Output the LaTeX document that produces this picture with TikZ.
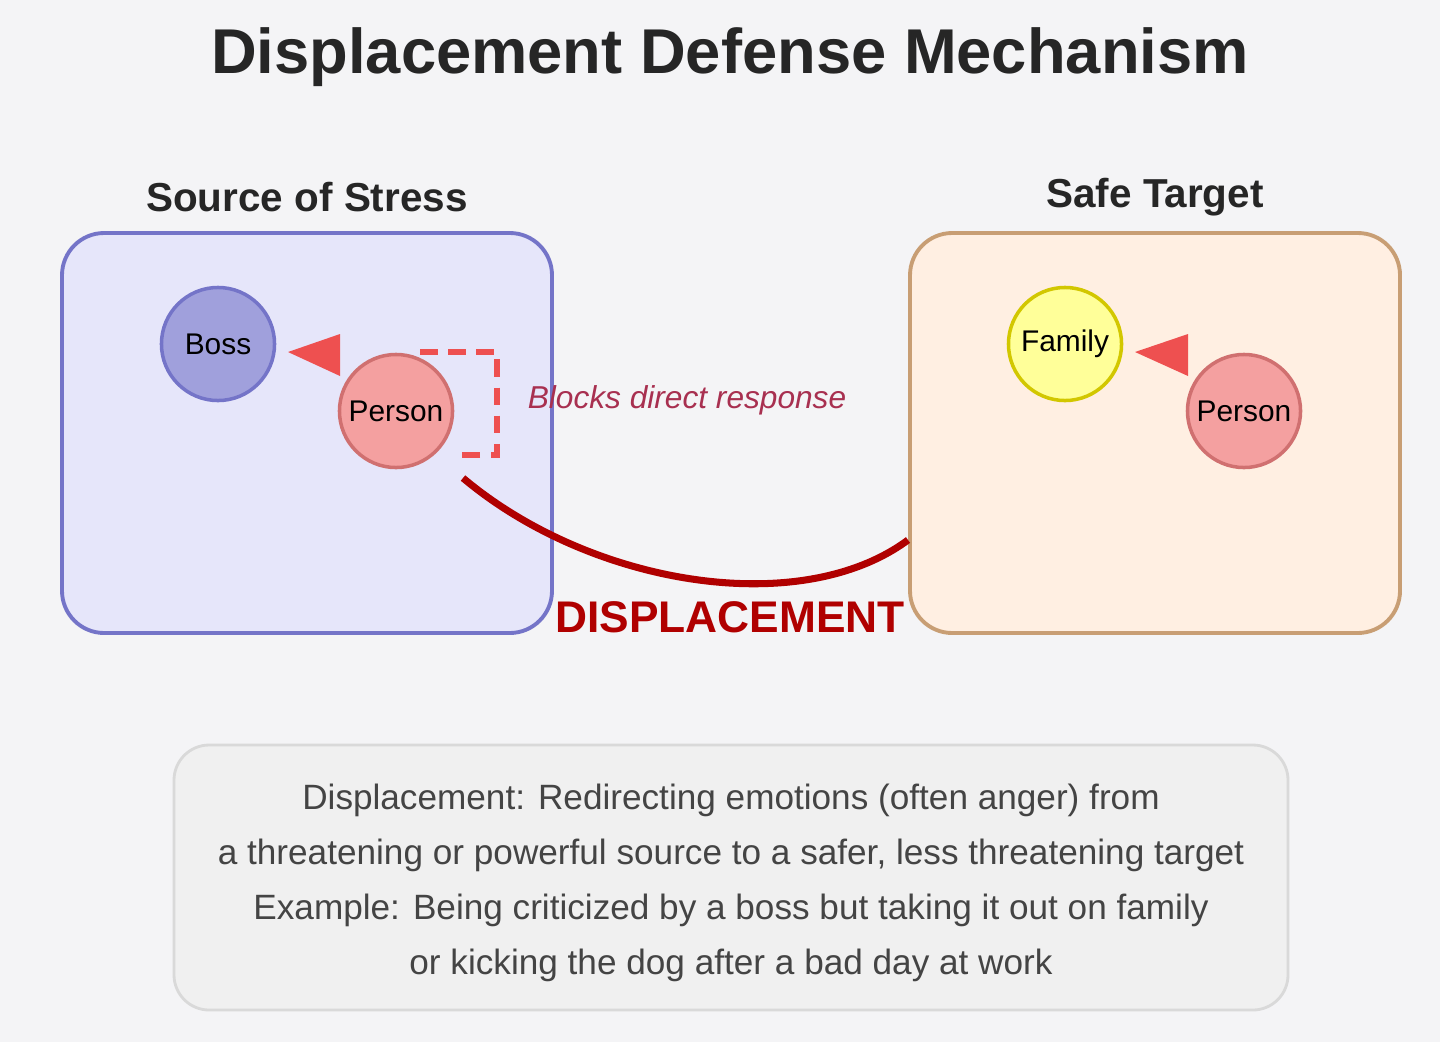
\documentclass[tikz,border=0pt]{standalone}
\usepackage{fontspec}
\setmainfont{Liberation Sans}
\usetikzlibrary{positioning}
\definecolor{bgc}{HTML}{F4F4F6}
\definecolor{stressfill}{HTML}{E6E6FA}
\definecolor{stressline}{HTML}{7474C8}
\definecolor{safefill}{HTML}{FFEFE2}
\definecolor{safeline}{HTML}{C89E74}
\definecolor{bossfill}{HTML}{A0A0DC}
\definecolor{personfill}{HTML}{F4A0A0}
\definecolor{personline}{HTML}{D07070}
\definecolor{famfill}{HTML}{FFFF99}
\definecolor{darkred}{HTML}{B00000}
\definecolor{tipred}{HTML}{EE5050}
\definecolor{blockc}{HTML}{A83050}
\definecolor{txt}{HTML}{444444}
\tikzset{
  zone/.style={draw, rounded corners=12pt, line width=1.1pt},
  who/.style={circle, draw, line width=1pt, minimum size=1.13cm, inner sep=0pt, font=\fontsize{8.5}{10}\selectfont},
  tip/.style={fill=tipred, draw=none},
  heading/.style={font=\bfseries\fontsize{11.5}{14}\selectfont, text=black!85}
}
\begin{document}
\begin{tikzpicture}[x=0.01cm, y=-0.01cm]
  \fill[bgc] (0,0) rectangle (1440,1042);
  \useasboundingbox (0,0) rectangle (1440,1042);

  % Title
  \node[font=\bfseries\fontsize{18}{21}\selectfont, text=black!85] (title) at (730,57) {Displacement Defense Mechanism};

  % Source of stress
  \node[heading] (srclabel) at (307,197) {Source of Stress};
  \draw[zone, draw=stressline, fill=stressfill] (62,233) rectangle (552,633);
  \node[who, fill=bossfill, draw=stressline] (boss) at (218,344) {Boss};
  \node[who, fill=personfill, draw=personline] (person) at (396,411) {Person};
  \fill[tip] (288,352) -- (340,334) -- (340,376) -- cycle;
  \draw[tipred, line width=1.6pt, dash pattern=on 5pt off 3pt] (420,352) -- (497,352) -- (497,455) -- (462,455);

  % Safe target
  \node[heading] (safelabel) at (1155,197) {Safe Target};
  \draw[zone, draw=safeline, fill=safefill] (910,233) rectangle (1400,633);
  \node[who, fill=famfill, draw=yellow!60!olive] (family) at (1065,344) {Family};
  \node[who, fill=personfill, draw=personline] (person2) at (1244,411) {Person};
  \fill[tip] (1135,352) -- (1188,334) -- (1188,376) -- cycle;

  % Displacement
  \node[font=\itshape\fontsize{9}{11}\selectfont, text=blockc] (blocks) at (687,400) {Blocks direct response};
  \coordinate (curveend) at (908,540);
  \draw[darkred, line width=2pt] (463,478) .. controls (590,585) and (800,620) .. (curveend);
  \node[font=\bfseries\fontsize{12.6}{15}\selectfont, text=darkred] (displ) at (730,617) {DISPLACEMENT};

  % Definition
  \draw[rounded corners=10pt, fill=black!6, draw=black!15, line width=0.8pt] (174,745) rectangle (1288,1010);
  \node[font=\fontsize{10}{15.7}\selectfont, text=txt, align=center] (defn) at (731,883)
    {Displacement: Redirecting emotions (often anger) from\\
     a threatening or powerful source to a safer, less threatening target\\
     Example: Being criticized by a boss but taking it out on family\\
     or kicking the dog after a bad day at work};
\end{tikzpicture}
\end{document}
